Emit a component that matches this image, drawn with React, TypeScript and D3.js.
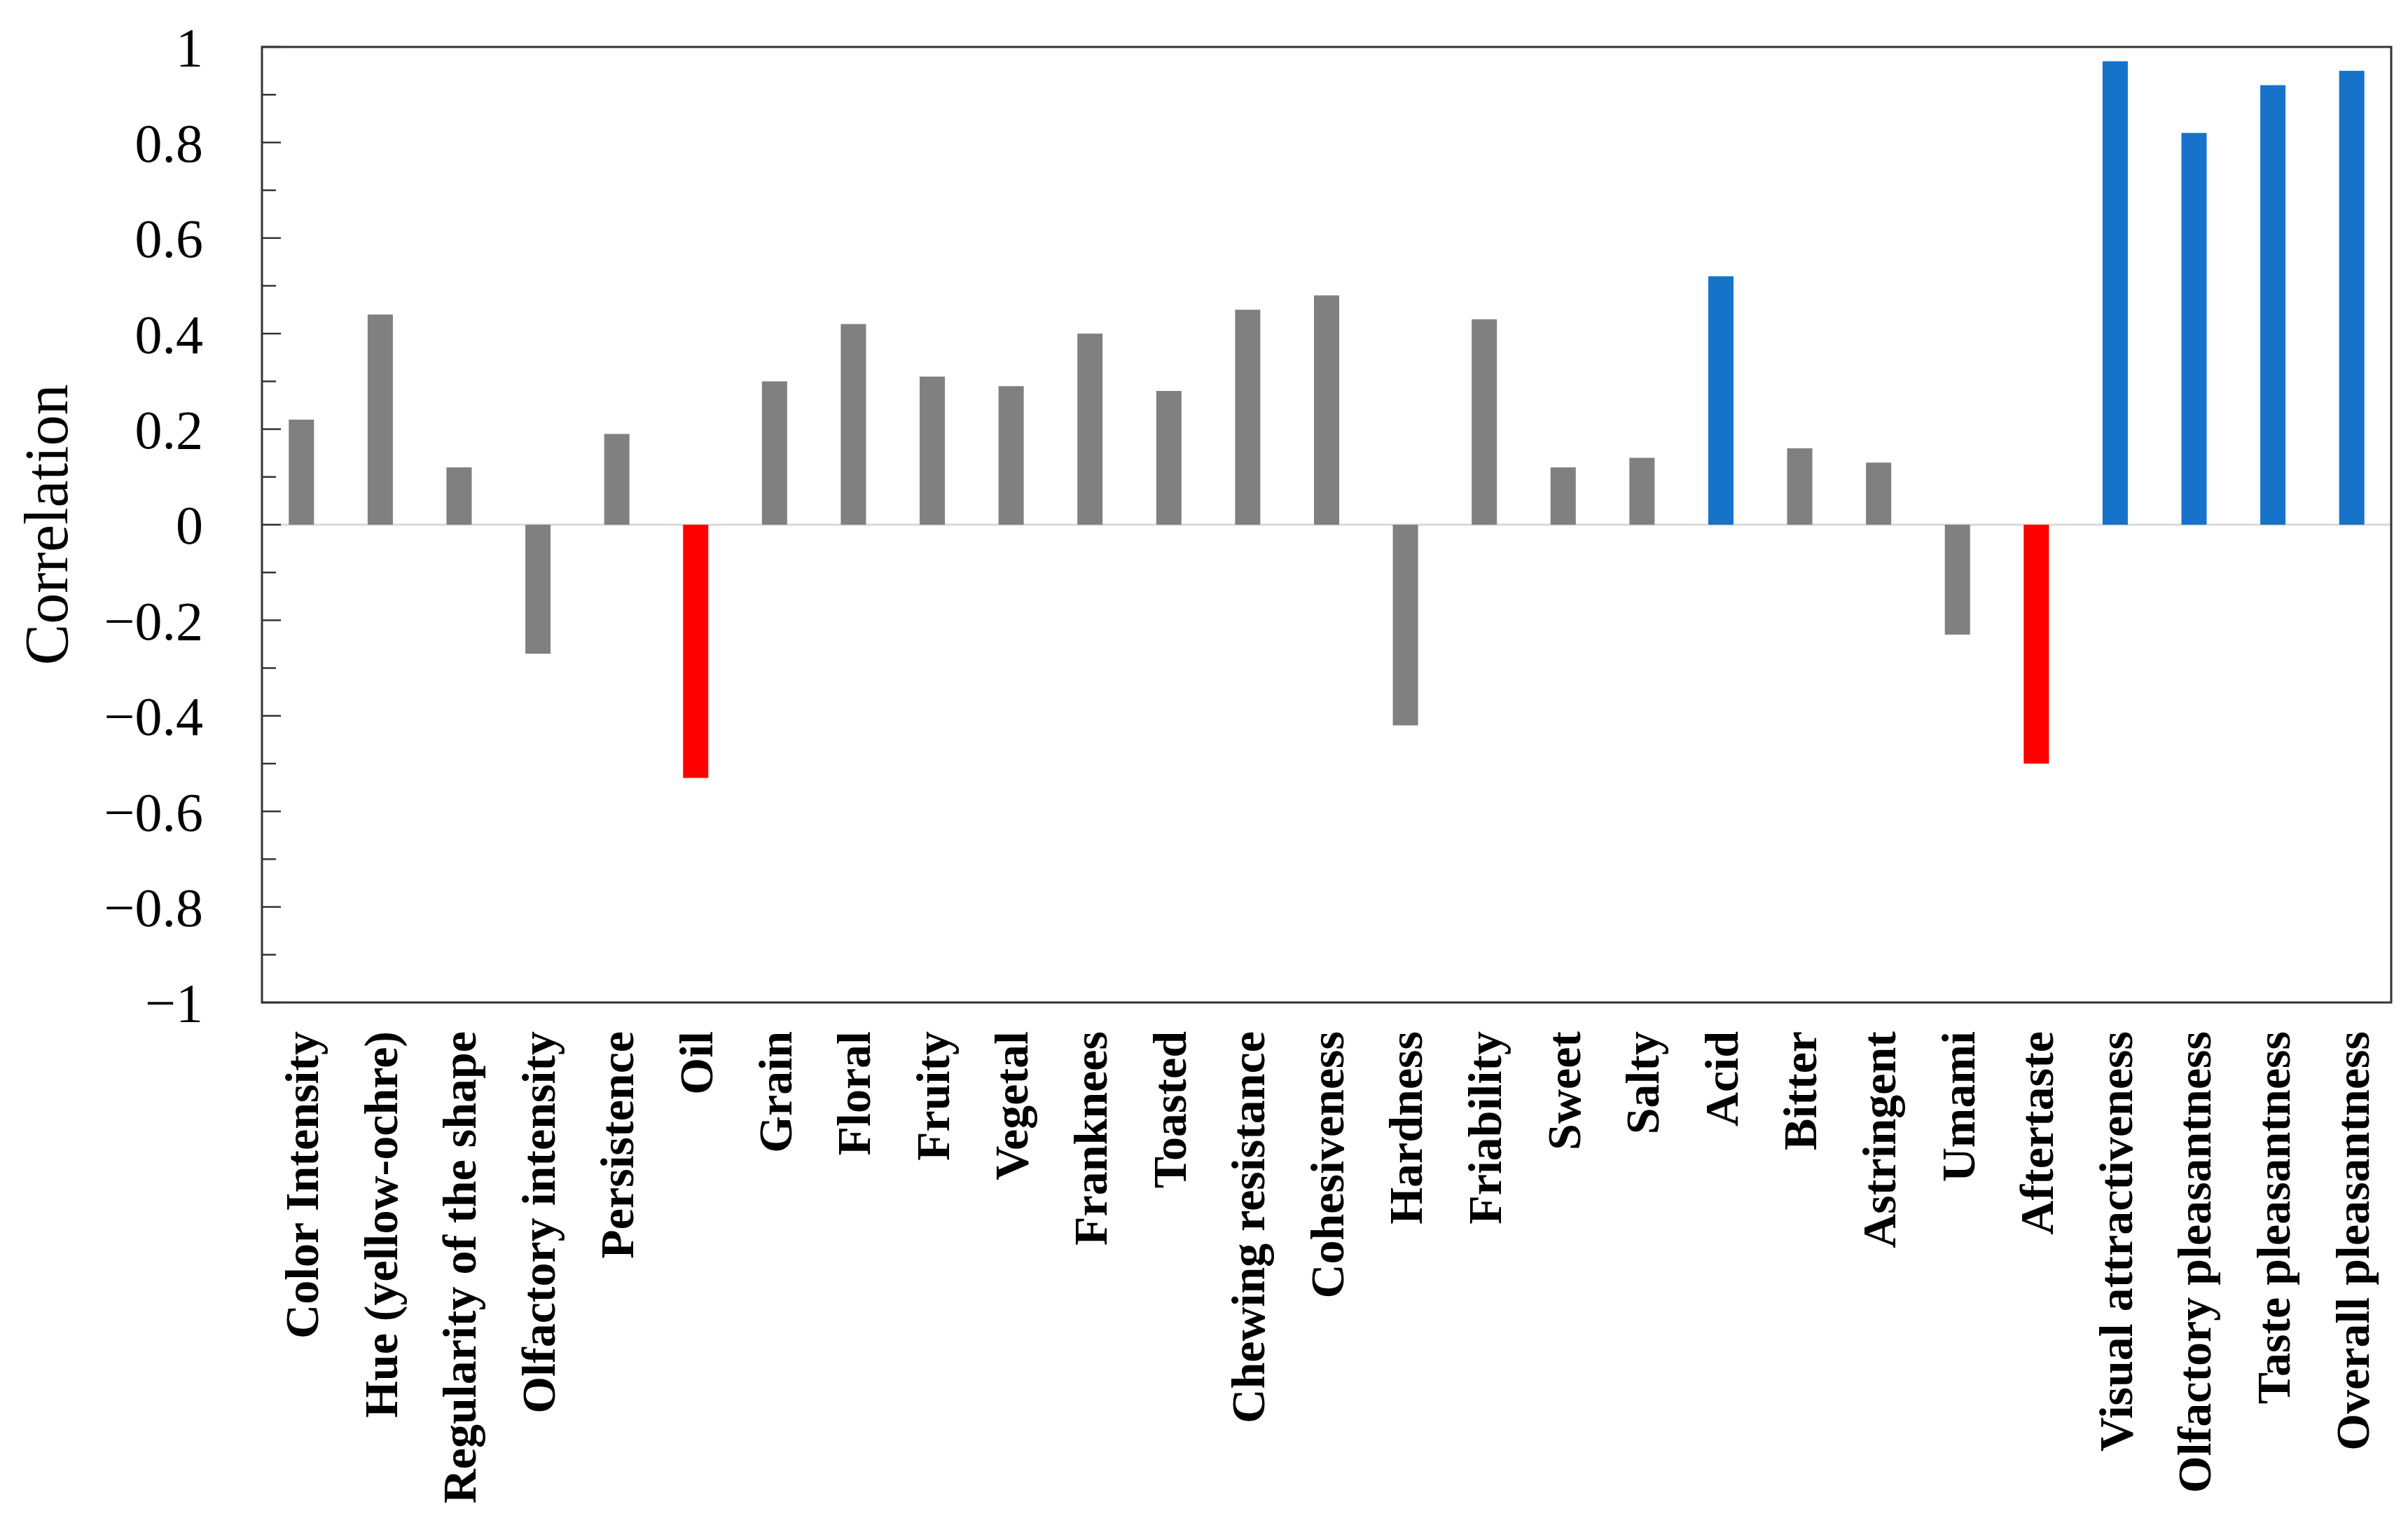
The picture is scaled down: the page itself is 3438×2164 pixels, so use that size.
import React from "react";
import * as d3 from "d3";

const categories = [
  "Color Intensity", "Hue (yellow-ochre)", "Regularity of the shape", "Olfactory intensity",
  "Persistence", "Oil", "Grain", "Floral", "Fruity", "Vegetal", "Franknees", "Toasted",
  "Chewing resistance", "Cohesiveness", "Hardness", "Friability", "Sweet", "Salty", "Acid",
  "Bitter", "Astringent", "Umami", "Aftertaste", "Visual attractiveness",
  "Olfactory pleasantness", "Taste pleasantness", "Overall pleasantness",
];

const correlations = [
  0.22, 0.44, 0.12, -0.27, 0.19, -0.53, 0.30, 0.42, 0.31, 0.29, 0.40, 0.28,
  0.45, 0.48, -0.42, 0.43, 0.12, 0.14, 0.52, 0.16, 0.13, -0.23, -0.50, 0.97,
  0.82, 0.92, 0.95,
];

// group: "n" = not highlighted, "pos" = positive highlighted, "neg" = negative highlighted
const groups = [
  "n", "n", "n", "n", "n", "neg", "n", "n", "n", "n", "n", "n",
  "n", "n", "n", "n", "n", "n", "pos", "n", "n", "n", "neg", "pos",
  "pos", "pos", "pos",
];

const majorTicks = [1, 0.8, 0.6, 0.4, 0.2, 0, -0.2, -0.4, -0.6, -0.8, -1];
const yTitle = "Correlation";

const W = 3438;
const H = 2164;
const M = { left: 374, right: 3414, top: 67, bottom: 1431 };

const colorOf: Record<string, string> = { n: "#808080", pos: "#1673c9", neg: "#ff0000" };

function fmt(v: number): string {
  if (v === 0) return "0";
  const s = Math.abs(v) === 1 ? "1" : Math.abs(v).toFixed(1);
  return v < 0 ? "\u2212" + s : s;
}

export default function App() {
  const x = d3.scaleBand<string>().domain(categories).range([M.left, M.right]).paddingInner(0.68).paddingOuter(0.34);
  const y = d3.scaleLinear().domain([-1, 1]).range([M.bottom, M.top]);
  const minorTicks = d3.range(-9, 10, 2).map((d) => d / 10);
  const serif = "'Palatino Linotype', 'Book Antiqua', Palatino, 'Liberation Serif', serif";

  return (
    <svg width={W} height={H} style={{ position: "absolute", left: 0, top: 0, background: "#fff" }}>
      <rect x={0} y={0} width={W} height={H} fill="#fff" />
      {/* zero line */}
      <line x1={M.left} x2={M.right} y1={y(0)} y2={y(0)} stroke="#d9d9d9" strokeWidth={3} />
      {/* bars */}
      {categories.map((c, i) => {
        const v = correlations[i];
        return (
          <rect
            key={c}
            x={x(c)}
            width={x.bandwidth()}
            y={Math.min(y(v), y(0))}
            height={Math.abs(y(v) - y(0))}
            fill={colorOf[groups[i]]}
          />
        );
      })}
      {/* frame */}
      <rect x={M.left} y={M.top} width={M.right - M.left} height={M.bottom - M.top} fill="none" stroke="#333" strokeWidth={3} />
      {/* ticks */}
      {majorTicks.map((t) => (
        <g key={"M" + t}>
          <line x1={M.left} x2={M.left + 27} y1={y(t)} y2={y(t)} stroke="#333" strokeWidth={2.5} />
          <text x={290} y={y(t)} dy="0.35em" textAnchor="end" fontFamily={serif} fontSize={78} fill="#000">
            {fmt(t)}
          </text>
        </g>
      ))}
      {minorTicks.map((t) => (
        <line key={"m" + t} x1={M.left} x2={M.left + 20} y1={y(t)} y2={y(t)} stroke="#333" strokeWidth={2.5} />
      ))}
      {/* y title */}
      <text
        transform={`translate(96, ${(M.top + M.bottom) / 2}) rotate(-90)`}
        textAnchor="middle"
        fontFamily={serif}
        fontSize={88}
        fill="#000"
      >
        {yTitle}
      </text>
      {/* x labels */}
      {categories.map((c) => (
        <text
          key={"l" + c}
          transform={`translate(${(x(c) as number) + x.bandwidth() / 2}, 1472) rotate(-90)`}
          dy="0.35em"
          textAnchor="end"
          fontFamily={serif}
          fontWeight="bold"
          fontSize={68}
          fill="#000"
        >
          {c}
        </text>
      ))}
    </svg>
  );
}
